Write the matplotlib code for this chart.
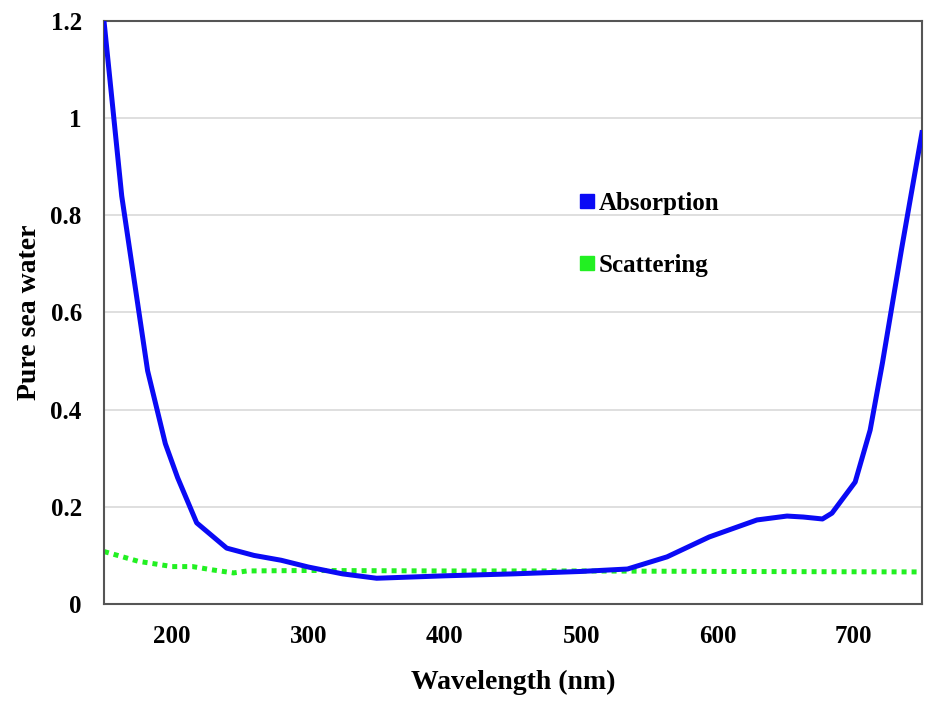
import matplotlib.pyplot as plt
from matplotlib.lines import Line2D
from matplotlib.ticker import FuncFormatter

# absorption of pure sea water
abs_wl = [150, 163, 182, 195, 204, 218, 240, 260, 280, 300, 325, 350, 400, 450,
          500, 534, 563, 594, 629, 651, 663, 677, 684, 701, 712, 721, 735, 750]
abs_val = [1.2, 0.84, 0.48, 0.33, 0.26, 0.167, 0.115, 0.10, 0.09, 0.076, 0.062, 0.053,
           0.058, 0.062, 0.067, 0.072, 0.097, 0.138, 0.173, 0.181, 0.179, 0.175,
           0.187, 0.251, 0.358, 0.496, 0.73, 0.97]

# scattering of pure sea water
sca_wl = [150, 175, 200, 215, 230, 245, 255, 300, 400, 500, 600, 750]
sca_val = [0.108, 0.088, 0.077, 0.077, 0.070, 0.064, 0.068, 0.069, 0.068, 0.068, 0.067, 0.066]

x_ticks = [200, 300, 400, 500, 600, 700]
y_ticks = [0, 0.2, 0.4, 0.6, 0.8, 1.0, 1.2]

blue = "#0a0af5"
green = "#22f022"

plt.rcParams["font.family"] = "Liberation Serif"
plt.rcParams["font.weight"] = "bold"

fig = plt.figure(figsize=(9.36, 7.11), dpi=100)
ax = fig.add_axes([0.1111, 0.1505, 0.8739, 0.82])

ax.plot(abs_wl, abs_val, color=blue, linewidth=3.6, solid_joinstyle="round", zorder=3)
ax.plot(sca_wl, sca_val, color=green, linewidth=3.6, linestyle=(0, (1, 1)),
        dash_capstyle="butt", zorder=2)

ax.set_xlim(150, 750)
ax.set_ylim(0, 1.2)
ax.set_xticks(x_ticks)
ax.set_yticks(y_ticks)
ax.yaxis.set_major_formatter(FuncFormatter(lambda v, p: f"{v:g}"))
ax.tick_params(axis="both", length=0, labelsize=18)
ax.tick_params(axis="x", pad=15)
ax.tick_params(axis="y", pad=16)

ax.grid(axis="y", color="#d9d9d9", linewidth=1.2)
ax.set_axisbelow(True)
for side in ax.spines.values():
    side.set_color("#555555")
    side.set_linewidth(1.5)

ax.set_xlabel("Wavelength (nm)", fontsize=20, fontweight="bold")
ax.set_ylabel("Pure sea water", fontsize=20, fontweight="bold")
ax.xaxis.set_label_coords(0.5, -0.113)
ax.yaxis.set_label_coords(-0.076, 0.5)

handles = [Line2D([], [], color=blue, marker="s", linestyle="none", markersize=10),
           Line2D([], [], color=green, marker="s", linestyle="none", markersize=10)]
ax.legend(handles, ["Absorption", "Scattering"], frameon=False, fontsize=18,
          loc="upper left", bbox_to_anchor=(0.554, 0.745), handlelength=0.6,
          handletextpad=0.15, labelspacing=1.55)

fig.savefig("out.png", dpi=100)
